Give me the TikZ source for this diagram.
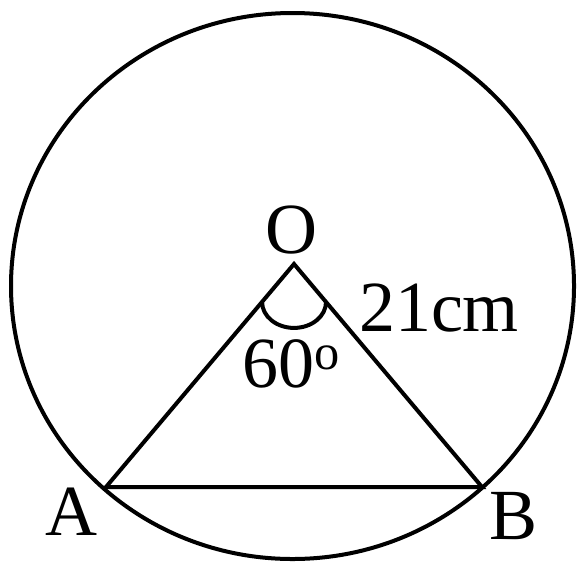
\documentclass[tikz,border=0pt]{standalone}
\usepackage{fontspec}
\setmainfont{Liberation Serif}
\usetikzlibrary{calc}

\begin{document}
\begin{tikzpicture}[x=0.5pt,y=-0.5pt,
  ln/.style={line width=2pt,line join=miter},
  lbl/.style={inner sep=0pt,font=\fontsize{36}{42}\selectfont}]
\useasboundingbox (0,0) rectangle (581,562);
\coordinate (O) at (294,264);
\coordinate (A) at (106,487);
\coordinate (B) at (482,487);
\coordinate (ctr) at (292.5,286);
\draw[ln] (ctr) ellipse [x radius=281.5,y radius=273];
\draw[ln] (O) -- (A) -- (B) -- cycle;
\draw[ln] ($(O)!0.17!(A)$) arc[start angle=180,end angle=0,x radius=32,y radius=26];
\node[lbl] (lblO) at (291,230) {O};
\node[lbl] (lblside) at (439,308) {21cm};
\node[lbl] (lblang) at (292,364) {60\textsuperscript{o}};
\node[lbl] (lblA) at (71,512) {A};
\node[lbl] (lblB) at (513,516) {B};
\end{tikzpicture}
\end{document}
